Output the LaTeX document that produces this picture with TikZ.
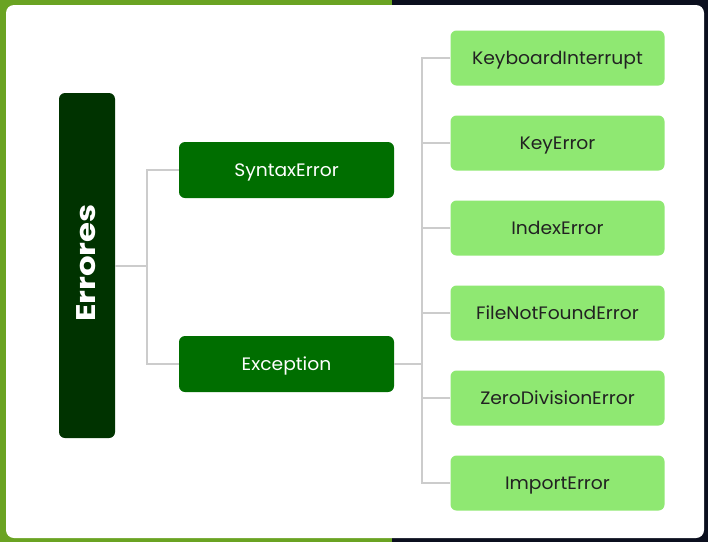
\documentclass[tikz,border=0pt]{standalone}
\usepackage{fontspec}
\setmainfont{Poppins}[FakeStretch=1.04]
\newfontfamily\boldfam{Poppins}[UprightFont=* Bold, FakeStretch=1.2]
\definecolor{bggreen}{HTML}{6AA322}
\definecolor{bgdark}{HTML}{0B0F1E}
\definecolor{rootgreen}{HTML}{003300}
\definecolor{midgreen}{HTML}{006E00}
\definecolor{leafgreen}{HTML}{8FE872}
\definecolor{linegray}{HTML}{CCCCCC}
\definecolor{leaftext}{HTML}{222222}
\tikzset{
  rootbox/.style={draw=none, fill=rootgreen, rounded corners=6pt, minimum width=56pt, minimum height=345pt, inner sep=0pt},
  midbox/.style={draw=none, fill=midgreen, rounded corners=6pt, minimum width=215pt, minimum height=56pt, inner sep=0pt, text=white, font=\fontsize{18}{21}\selectfont, text height=13pt, text depth=0pt},
  leafbox/.style={draw=none, fill=leafgreen, rounded corners=6pt, minimum width=214pt, minimum height=55pt, inner sep=0pt, text=leaftext, font=\fontsize{18}{21}\selectfont, text height=13pt, text depth=0pt},
  conn/.style={draw=linegray, line width=1.4pt}
}
\begin{document}
\begin{tikzpicture}[x=1pt, y=-1pt]
  \useasboundingbox (0,0) rectangle (708,542);
  \fill[bggreen] (0,0) rectangle (392,542);
  \fill[bgdark] (392,0) rectangle (708,542);
  \fill[white, rounded corners=8pt] (6,5) rectangle (704,538);

  \node[rootbox] (root) at (87,265.5) {};
  \node[rotate=90, text=white, font=\boldfam\fontsize{27}{30}\selectfont, text height=19pt, text depth=0pt] (roottext) at (86,263) {Errores};

  \node[midbox] (syn) at (286.5,170) {SyntaxError};
  \node[midbox] (exc) at (286.5,364) {Exception};

  \node[leafbox] (k1) at (557.5,58) {KeyboardInterrupt};
  \node[leafbox] (k2) at (557.5,143) {KeyError};
  \node[leafbox] (k3) at (557.5,228) {IndexError};
  \node[leafbox] (k4) at (557.5,313) {FileNotFoundError};
  \node[leafbox] (k5) at (557.5,398) {ZeroDivisionError};
  \node[leafbox] (k6) at (557.5,483) {ImportError};

  \coordinate (lb) at (147,266);
  \coordinate (rb) at (422,364);

  \draw[conn] (root.east |- lb) -- (lb);
  \draw[conn] (syn.west) -| (lb) |- (exc.west);
  \draw[conn] (exc.east) -- (rb);
  \draw[conn] (k1.west) -| (rb);
  \draw[conn] (k2.west) -| (rb);
  \draw[conn] (k3.west) -| (rb);
  \draw[conn] (k4.west) -| (rb);
  \draw[conn] (k5.west) -| (rb);
  \draw[conn] (k6.west) -| (rb);
\end{tikzpicture}
\end{document}
